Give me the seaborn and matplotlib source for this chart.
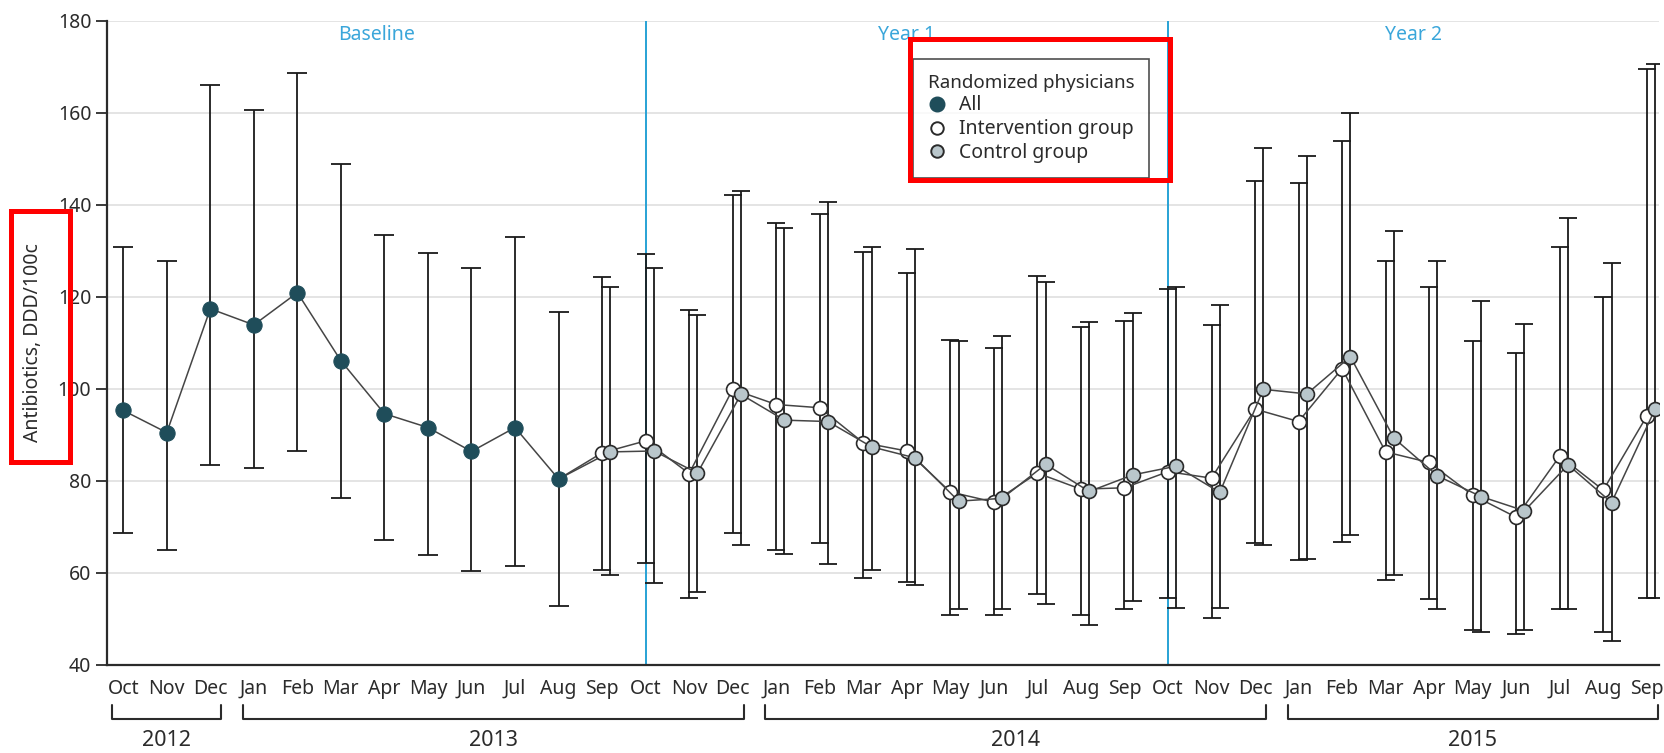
import numpy as np
import pandas as pd
import seaborn as sns
import matplotlib.pyplot as plt
from matplotlib.lines import Line2D
from matplotlib.patches import Rectangle

# month axis, Oct 2012 .. Sep 2015
months = ["Oct", "Nov", "Dec",
          "Jan", "Feb", "Mar", "Apr", "May", "Jun", "Jul", "Aug", "Sep", "Oct", "Nov", "Dec",
          "Jan", "Feb", "Mar", "Apr", "May", "Jun", "Jul", "Aug", "Sep", "Oct", "Nov", "Dec",
          "Jan", "Feb", "Mar", "Apr", "May", "Jun", "Jul", "Aug", "Sep"]
years = ["2012", "2013", "2014", "2015"]
months_per_year = [3, 12, 12, 9]
periods = ["Baseline", "Year 1", "Year 2"]
period_starts = [12, 24]  # Oct 2013, Oct 2014

# all randomized physicians (Oct 2012 .. Aug 2013)
all_mean = [95.3, 90.5, 117.4, 113.9, 120.9, 106.1, 94.6, 91.6, 86.4, 91.6, 80.4]
all_lo = [68.6, 64.9, 83.4, 82.7, 86.5, 76.3, 67.2, 63.8, 60.4, 61.4, 52.8]
all_hi = [130.8, 127.7, 166.0, 160.7, 168.6, 148.9, 133.4, 129.6, 126.3, 133.0, 116.7]

# intervention group (Sep 2013 .. Sep 2015)
int_mean = [86.1, 88.7, 81.6, 99.9, 96.6, 95.9, 88.3, 86.5, 77.6, 75.4, 81.7, 78.2, 78.5,
            82.0, 80.6, 95.6, 92.9, 104.4, 86.3, 84.0, 76.9, 72.1, 85.4, 78.0, 94.1]
int_lo = [60.6, 62.2, 54.6, 68.6, 64.9, 66.4, 58.8, 58.0, 50.9, 50.9, 55.4, 50.9, 52.1,
          54.6, 50.1, 66.4, 62.8, 66.8, 58.5, 54.3, 47.5, 46.7, 52.1, 47.1, 54.6]
int_hi = [124.3, 129.2, 117.1, 142.1, 136.1, 138.0, 129.7, 125.1, 110.6, 108.8, 124.5, 113.4, 114.8,
          121.7, 113.8, 145.1, 144.8, 153.9, 127.7, 122.1, 110.4, 107.7, 130.8, 119.9, 169.4]

# control group (Sep 2013 .. Sep 2015)
ctl_mean = [86.3, 86.5, 81.7, 98.8, 93.2, 92.9, 87.4, 85.0, 75.6, 76.2, 83.6, 77.7, 81.3,
            83.2, 77.5, 99.9, 98.9, 107.0, 89.3, 81.1, 76.6, 73.5, 83.5, 75.3, 95.6]
ctl_lo = [59.6, 57.8, 55.8, 66.1, 64.2, 61.9, 60.6, 57.4, 52.1, 52.1, 53.2, 48.6, 54.0,
          52.4, 52.4, 66.1, 63.0, 68.3, 59.6, 52.1, 47.1, 47.5, 52.1, 45.3, 54.6]
ctl_hi = [122.1, 126.3, 116.0, 142.9, 134.9, 140.6, 130.8, 130.4, 110.4, 111.5, 123.3, 114.5, 116.4,
          122.1, 118.3, 152.3, 150.5, 159.9, 134.2, 127.7, 119.0, 114.1, 137.2, 127.4, 170.5]

DARK = "#1f4d5a"
CTL = "#b9c6cb"
EDGE = "#2a2a2a"
LINE = "#454545"
BLUE = "#27a2d5"
TXT = "#2b2b2b"

sns.set_style("white")
plt.rcParams["font.family"] = ["Noto Sans", "DejaVu Sans"]

n_all = len(all_mean)
x_all = np.arange(n_all)
x_grp = np.arange(len(int_mean)) + n_all
ctl_shift = 0.19

df_all = pd.DataFrame({"x": x_all, "y": all_mean})
df_int = pd.DataFrame({"x": x_grp, "y": int_mean})
df_ctl = pd.DataFrame({"x": x_grp + ctl_shift, "y": ctl_mean})

fig = plt.figure(figsize=(16.64, 7.53), dpi=100)
ax = fig.add_axes([0.0641, 0.1169, 0.9329, 0.8556])

xmin, xmax = -0.381, len(months) - 1 + 0.28
ax.set_xlim(xmin, xmax)
ax.set_ylim(40, 180)
ax.set_yticks(range(40, 181, 20))
ax.grid(axis="y", color="#dcdcdc", linewidth=1.1)
ax.set_axisbelow(True)

# intervention periods
for p in period_starts:
    ax.axvline(p, color=BLUE, linewidth=1.4, zorder=1)
bounds = [xmin] + period_starts + [xmax]
for i, name in enumerate(periods):
    ax.text((bounds[i] + bounds[i + 1]) / 2, 176.9, name, color="#3aa6da",
            ha="center", va="center", fontsize=14)

# error bars
eb = dict(fmt="none", ecolor="#1a1a1a", elinewidth=1.3, capthick=1.3, zorder=2)
ax.errorbar(x_all, all_mean, yerr=[np.subtract(all_mean, all_lo), np.subtract(all_hi, all_mean)],
            capsize=7, **eb)
ax.errorbar(x_grp, int_mean, yerr=[np.subtract(int_mean, int_lo), np.subtract(int_hi, int_mean)],
            capsize=6.5, **eb)
ax.errorbar(x_grp + ctl_shift, ctl_mean,
            yerr=[np.subtract(ctl_mean, ctl_lo), np.subtract(ctl_hi, ctl_mean)],
            capsize=6.5, **eb)

# lines + markers
sns.lineplot(data=df_all, x="x", y="y", ax=ax, color=LINE, linewidth=1.1, marker="o",
             markersize=11, markerfacecolor=DARK, markeredgecolor=DARK, zorder=4)
sns.lineplot(data=df_int, x="x", y="y", ax=ax, color=LINE, linewidth=1.1, marker="o",
             markersize=10, markerfacecolor="white", markeredgecolor=EDGE,
             markeredgewidth=1.2, zorder=4)
sns.lineplot(data=df_ctl, x="x", y="y", ax=ax, color=LINE, linewidth=1.1, marker="o",
             markersize=10, markerfacecolor=CTL, markeredgecolor=EDGE,
             markeredgewidth=1.2, zorder=5)
# join baseline series to first group point
ax.plot([x_all[-1], x_grp[0]], [all_mean[-1], int_mean[0]], color=LINE, linewidth=1.1, zorder=3)
ax.plot([x_all[-1], x_grp[0] + ctl_shift], [all_mean[-1], ctl_mean[0]], color=LINE,
        linewidth=1.1, zorder=3)

# axes styling
for s in ["top", "right"]:
    ax.spines[s].set_visible(False)
for s in ["left", "bottom"]:
    ax.spines[s].set_color(TXT)
    ax.spines[s].set_linewidth(1.6)
ax.set_xticks(np.arange(len(months)))
ax.set_xticklabels(months)
ax.tick_params(axis="x", length=5, width=1.3, color=TXT, labelsize=14, labelcolor=TXT, pad=5)
ax.tick_params(axis="y", length=8, width=1.3, color=TXT, labelsize=14, labelcolor=TXT, pad=3,
               left=True)
ax.set_xlabel("")
ax.set_ylabel("Antibiotics, DDD/100c", fontsize=14, color=TXT)
ax.yaxis.set_label_coords(-0.041, 0.5)

# year brackets below the month labels
tr = ax.get_xaxis_transform()
start = 0
for yr, n in zip(years, months_per_year):
    a, b = start - 0.25, start + n - 1 + 0.25
    ax.plot([a, a, b, b], [-0.062, -0.0843, -0.0843, -0.062], transform=tr, color=TXT,
            linewidth=1.5, clip_on=False)
    ax.text((a + b) / 2, -0.117, yr, transform=tr, ha="center", va="center",
            fontsize=15.5, color=TXT)
    start += n

# legend
handles = [
    Line2D([], [], linestyle="none", marker="o", markersize=10.5, markerfacecolor=DARK,
           markeredgecolor=DARK),
    Line2D([], [], linestyle="none", marker="o", markersize=9, markerfacecolor="white",
           markeredgecolor=EDGE, markeredgewidth=1.4),
    Line2D([], [], linestyle="none", marker="o", markersize=9, markerfacecolor=CTL,
           markeredgecolor=EDGE, markeredgewidth=1.4),
]
leg = ax.legend(handles, ["All", "Intervention group", "Control group"],
                title="Randomized physicians", alignment="left", loc="upper left",
                bbox_to_anchor=(0.5194, 0.9406), borderaxespad=0, fontsize=14,
                title_fontsize=13.5, frameon=True, fancybox=False, handletextpad=0.6,
                handlelength=1.0, labelspacing=0.2, borderpad=0.75, labelcolor=TXT)
leg.get_title().set_color(TXT)
leg.get_frame().set_edgecolor("#222222")
leg.get_frame().set_linewidth(1.2)
leg.set_zorder(6)

# red highlight boxes around legend and y label
fig.canvas.draw()
rend = fig.canvas.get_renderer()
inv = fig.transFigure.inverted()


def red_box(bb, l, r, t, b):
    (x0, y0), (x1, y1) = inv.transform([(bb.x0 - l, bb.y0 - b), (bb.x1 + r, bb.y1 + t)])
    fig.add_artist(Rectangle((x0, y0), x1 - x0, y1 - y0, transform=fig.transFigure,
                             fill=False, edgecolor="#ff0000", linewidth=3.6, zorder=10))


red_box(leg.get_frame().get_window_extent(rend), 2.5, 21.5, 19.5, 2.5)
red_box(ax.yaxis.label.get_window_extent(rend), 12.5, 26.5, 32, 19.5)

fig.savefig("out.png", dpi=100)
